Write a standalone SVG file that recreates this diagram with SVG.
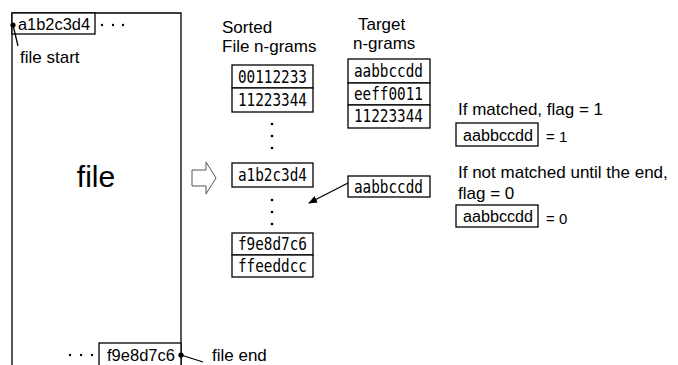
<svg xmlns="http://www.w3.org/2000/svg" width="678" height="365" viewBox="0 0 678 365">
<defs>
<style>
.ln{fill:none;stroke:#000;stroke-width:1.3}
.bx{fill:#fff;stroke:#000;stroke-width:1.3}
.lbl{font-family:"Liberation Sans",Arial,sans-serif;font-size:17px;fill:#000}
.hs{font-family:"Liberation Sans",Arial,sans-serif;font-size:16px;fill:#000}
.mono{font-family:"DejaVu Sans Mono","Liberation Mono",monospace;font-size:17px;fill:#000}
.sm{font-family:"Liberation Sans",Arial,sans-serif;font-size:15px;fill:#000}
.dot{fill:#000}
</style>
<marker id="ah" viewBox="0 0 10 10" refX="9" refY="5" markerWidth="9" markerHeight="9" markerUnits="userSpaceOnUse" orient="auto">
<path d="M0,1 L10,5 L0,9 z" fill="#000"/>
</marker>
</defs>
<rect width="678" height="365" fill="#fff"/>

<g id="file">
<path class="ln" d="M12,366 V13 H181 V366"/>
<text x="96" y="187" class="lbl" style="font-size:30px" text-anchor="middle">file</text>
</g>

<g id="file-start">
<rect class="bx" x="12" y="13" width="83" height="21"/>
<text x="18" y="30" class="hs" textLength="72" lengthAdjust="spacingAndGlyphs">a1b2c3d4</text>
<circle class="dot" cx="102" cy="25" r="1.2"/>
<circle class="dot" cx="113" cy="25" r="1.2"/>
<circle class="dot" cx="123" cy="25" r="1.2"/>
<circle class="dot" cx="13" cy="25" r="2.6"/>
<text x="20" y="63" class="lbl">file start</text>
</g>

<g id="file-end">
<rect class="bx" x="99" y="343" width="82" height="24"/>
<text x="107" y="361" class="hs" textLength="68" lengthAdjust="spacingAndGlyphs">f9e8d7c6</text>
<circle class="dot" cx="70" cy="355" r="1.2"/>
<circle class="dot" cx="81" cy="355" r="1.2"/>
<circle class="dot" cx="92" cy="355" r="1.2"/>
<circle class="dot" cx="181" cy="355" r="2.6"/>
<text x="212" y="361" class="lbl">file end</text>
</g>

<g id="hollow-arrow">
<path d="M192,170 H206 V162 L216,178 L206,194 V186 H192 Z" fill="#fff" stroke="#555" stroke-width="1"/>
</g>

<g id="sorted">
<text x="222" y="33" class="lbl">Sorted</text>
<text x="222" y="52" class="lbl">File n-grams</text>
<rect class="bx" x="232" y="65" width="81" height="23"/>
<rect class="bx" x="232" y="88" width="81" height="24"/>
<text x="238" y="83" class="mono" textLength="69" lengthAdjust="spacingAndGlyphs">00112233</text>
<text x="238" y="106" class="mono" textLength="69" lengthAdjust="spacingAndGlyphs">11223344</text>
<circle class="dot" cx="272" cy="124" r="1.3"/>
<circle class="dot" cx="272" cy="136" r="1.3"/>
<circle class="dot" cx="272" cy="148" r="1.3"/>
<rect class="bx" x="232" y="163" width="81" height="24"/>
<text x="238" y="181" class="mono" textLength="69" lengthAdjust="spacingAndGlyphs">a1b2c3d4</text>
<circle class="dot" cx="272" cy="200" r="1.3"/>
<circle class="dot" cx="272" cy="212" r="1.3"/>
<circle class="dot" cx="272" cy="224" r="1.3"/>
<rect class="bx" x="232" y="233" width="81" height="22"/>
<rect class="bx" x="232" y="255" width="81" height="22"/>
<text x="238" y="250" class="mono" textLength="69" lengthAdjust="spacingAndGlyphs">f9e8d7c6</text>
<text x="238" y="272" class="mono" textLength="69" lengthAdjust="spacingAndGlyphs">ffeeddcc</text>
</g>

<g id="target">
<text x="358" y="30" class="lbl">Target</text>
<text x="353" y="49" class="lbl">n-grams</text>
<rect class="bx" x="348" y="59" width="82" height="24"/>
<rect class="bx" x="348" y="83" width="82" height="22"/>
<rect class="bx" x="348" y="105" width="82" height="23"/>
<text x="354" y="77" class="mono" textLength="69" lengthAdjust="spacingAndGlyphs">aabbccdd</text>
<text x="354" y="100" class="mono" textLength="69" lengthAdjust="spacingAndGlyphs">eeff0011</text>
<text x="354" y="122" class="mono" textLength="69" lengthAdjust="spacingAndGlyphs">11223344</text>
</g>

<g id="query">
<rect class="bx" x="348" y="176" width="82" height="21"/>
<text x="354" y="193" class="mono" textLength="69" lengthAdjust="spacingAndGlyphs">aabbccdd</text>
</g>

<g id="connectors">
<line class="ln" x1="13" y1="25" x2="18" y2="46" stroke-width="1.2"/>
<line class="ln" x1="181" y1="355" x2="203" y2="362" stroke-width="1.2"/>
<line class="ln" x1="348" y1="183" x2="309" y2="203" stroke-width="1.2" marker-end="url(#ah)"/>
</g>

<g id="matched">
<text x="458" y="115" class="lbl">If matched, flag = 1</text>
<rect class="bx" x="456" y="123" width="82" height="23"/>
<text x="463" y="141" class="hs" textLength="70" lengthAdjust="spacingAndGlyphs">aabbccdd</text>
<text x="546" y="142" class="sm">= 1</text>
</g>

<g id="not-matched">
<text x="458" y="178" class="lbl">If not matched until the end,</text>
<text x="458" y="199" class="lbl">flag = 0</text>
<rect class="bx" x="456" y="205" width="82" height="22"/>
<text x="463" y="222" class="hs" textLength="70" lengthAdjust="spacingAndGlyphs">aabbccdd</text>
<text x="546" y="224" class="sm">= 0</text>
</g>
</svg>
